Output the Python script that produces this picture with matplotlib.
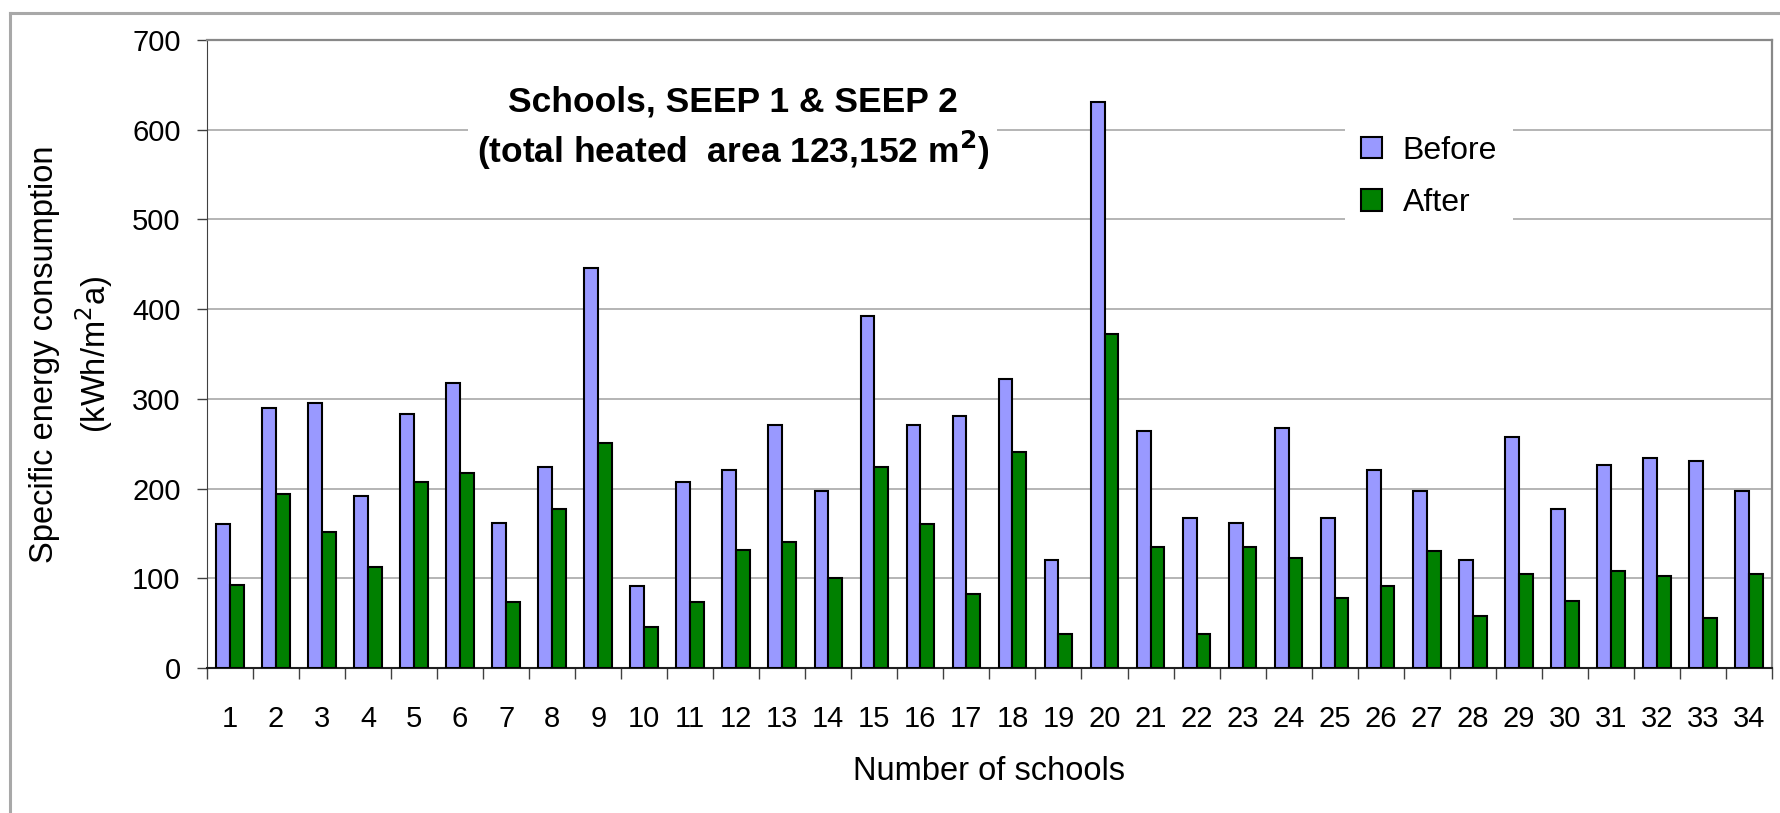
import matplotlib.pyplot as plt
from matplotlib.lines import Line2D
import numpy as np

plt.rcParams['font.family'] = ['Liberation Sans', 'DejaVu Sans']

# specific energy consumption per school, kWh/m2a
schools = list(range(1, 35))
before = [160, 290, 295, 192, 283, 318, 162, 224, 446, 91,
          207, 221, 271, 197, 392, 271, 281, 322, 120, 631,
          264, 167, 162, 268, 167, 221, 197, 120, 258, 177,
          226, 234, 231, 197]
after = [93, 194, 152, 113, 207, 217, 73, 177, 251, 46,
         73, 132, 140, 100, 224, 160, 83, 241, 38, 372,
         135, 38, 135, 123, 78, 91, 130, 58, 105, 75,
         108, 103, 56, 105]

fig = plt.figure(figsize=(17.81, 8.13), dpi=100)
ax = fig.add_axes([0.1162, 0.1784, 0.8787, 0.7724])

# grey frame round the chart (cut off at right and bottom in the original)
fx, fy = 10 / 1781, 1 - 13 / 813
fig.lines.append(Line2D([fx, fx], [0, fy], transform=fig.transFigure,
                        color='#a8a8a8', linewidth=2.2))
fig.lines.append(Line2D([fx, 1], [fy, fy], transform=fig.transFigure,
                        color='#a8a8a8', linewidth=2.2))

x = np.array(schools)
w = 0.3
ax.bar(x - w / 2, before, w, color='#9999FF', edgecolor='black', linewidth=1.5,
       label='Before', zorder=3)
ax.bar(x + w / 2, after, w, color='#008000', edgecolor='black', linewidth=1.5,
       label='After', zorder=3)

ax.set_xlim(0.5, 34.5)
ax.set_ylim(0, 700)
ax.set_yticks(range(0, 701, 100))
ax.yaxis.grid(True, color='#a8a8a8', linewidth=1.2, zorder=0)
ax.set_axisbelow(True)

ax.set_xticks(x)
ax.set_xticklabels([str(s) for s in schools])
ax.set_xticks(np.arange(0.5, 35, 1), minor=True)
ax.tick_params(axis='x', which='major', length=0, pad=27, labelsize=21)
ax.tick_params(axis='x', which='minor', length=8, width=1, color='#404040')
ax.tick_params(axis='y', length=7, width=1, pad=12, labelsize=21, color='#404040')

ax.spines['top'].set_color('#888888')
ax.spines['top'].set_linewidth(1.6)
ax.spines['right'].set_color('#888888')
ax.spines['right'].set_linewidth(1.6)
ax.spines['left'].set_color('#404040')
ax.spines['bottom'].set_color('#202020')
ax.spines['bottom'].set_linewidth(1.5)

ax.set_xlabel('Number of schools', fontsize=23.5, labelpad=16)
ax.set_ylabel('Specific energy consumption\n(kWh/m$^{2}$a)', fontsize=23.5, labelpad=12,
              linespacing=1.4)

ax.text(0.336, 0.858, 'Schools, SEEP 1 & SEEP 2\n(total heated  area 123,152 m$^{\\mathbf{2}}$)',
        transform=ax.transAxes, ha='center', va='center', fontsize=25.5,
        fontweight='bold', linespacing=1.3, zorder=5,
        bbox=dict(facecolor='white', edgecolor='none', pad=6))

leg = ax.legend(loc='upper left', bbox_to_anchor=(0.727, 0.873), fontsize=23,
                frameon=True, edgecolor='none', fancybox=False, framealpha=1,
                handlelength=0.66, handleheight=0.66, handletextpad=0.66,
                labelspacing=0.7, borderpad=0.5, borderaxespad=0)
leg.set_zorder(5)

fig.savefig('out.png', dpi=100)
